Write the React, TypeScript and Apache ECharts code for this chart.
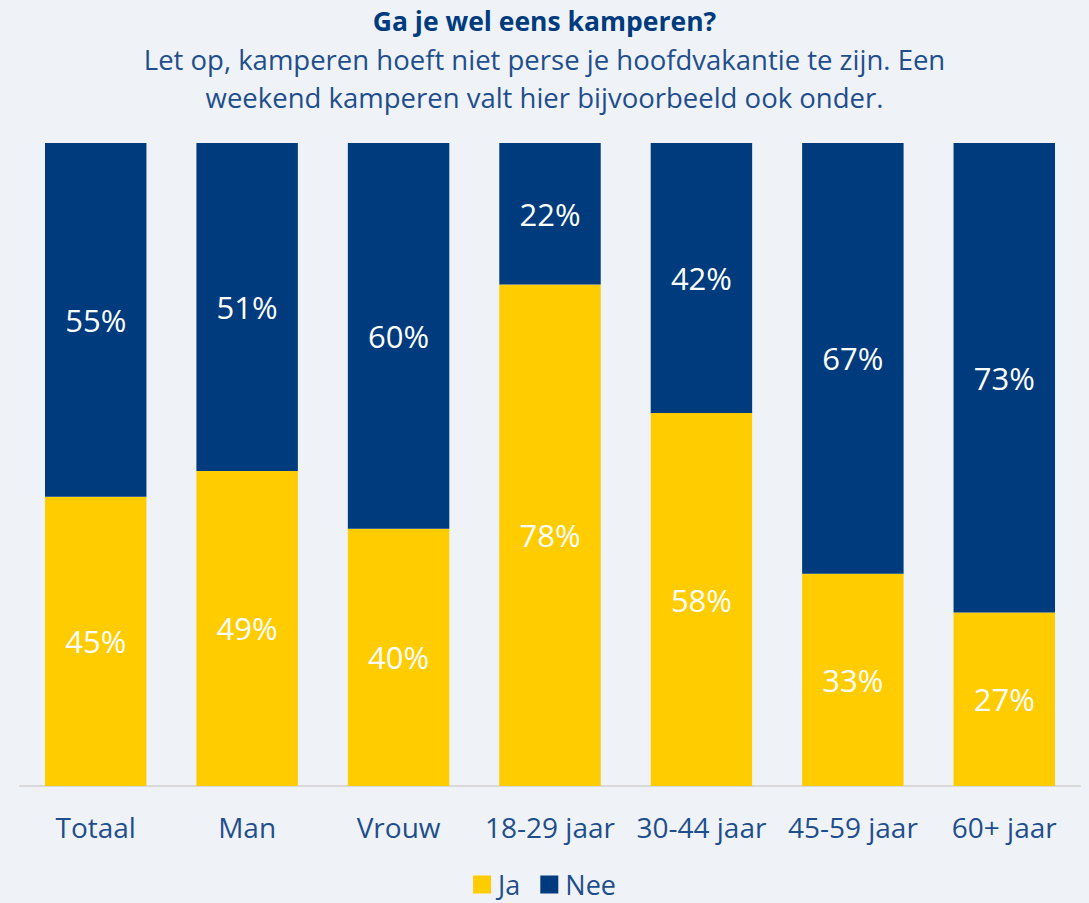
import React, { useEffect, useRef } from "react";
import * as echarts from "echarts";

const categories = ["Totaal", "Man", "Vrouw", "18-29 jaar", "30-44 jaar", "45-59 jaar", "60+ jaar"];
const jaValues = [45, 49, 40, 78, 58, 33, 27];
const neeValues = [55, 51, 60, 22, 42, 67, 73];
const titleText = "Ga je wel eens kamperen?";
const subText = "Let op, kamperen hoeft niet perse je hoofdvakantie te zijn. Een\nweekend kamperen valt hier bijvoorbeeld ook onder.";

const FONT = "'Open Sans', 'Noto Sans', sans-serif";
const BLUE = "#003B7E";
const YELLOW = "#FFCC00";
const TEXT_BLUE = "#1F4E8C";

export default function App() {
  const ref = useRef<HTMLDivElement>(null);
  useEffect(() => {
    document.body.style.margin = "0";
    const chart = echarts.init(ref.current!, null, { renderer: "svg" });
    const label = {
      show: true,
      position: "inside",
      color: "#ffffff",
      fontSize: 31,
      fontFamily: FONT,
      formatter: (p: any) => p.value + "%",
    };
    chart.setOption({
      animation: false,
      backgroundColor: "#EFF3F8",
      textStyle: { fontFamily: FONT },
      title: {
        text: titleText,
        subtext: subText,
        left: "center",
        top: 2,
        itemGap: 6,
        textStyle: { color: BLUE, fontSize: 26.5, fontWeight: "bold", fontFamily: FONT },
        subtextStyle: { color: TEXT_BLUE, fontSize: 27.5, lineHeight: 38, fontFamily: FONT },
      },
      legend: {
        data: ["Ja", "Nee"],
        bottom: 0,
        left: "center",
        itemWidth: 18,
        itemHeight: 18,
        itemGap: 20,
        icon: "rect",
        textStyle: { color: TEXT_BLUE, fontSize: 27, fontFamily: FONT, padding: [0, 0, 0, 2] },
      },
      grid: { left: 20, right: 9, top: 143, bottom: 117, containLabel: false },
      xAxis: {
        type: "category",
        data: categories,
        axisLine: { lineStyle: { color: "#D9D9D9", width: 2 } },
        axisTick: { show: false },
        axisLabel: { color: TEXT_BLUE, fontSize: 28, margin: 27, interval: 0, fontFamily: FONT },
      },
      yAxis: { type: "value", min: 0, max: 100, show: false, splitLine: { show: false } },
      series: [
        {
          name: "Ja",
          type: "bar",
          stack: "total",
          data: jaValues,
          barCategoryGap: "33%",
          itemStyle: { color: YELLOW },
          label,
        },
        {
          name: "Nee",
          type: "bar",
          stack: "total",
          data: neeValues,
          barCategoryGap: "33%",
          itemStyle: { color: BLUE },
          label,
        },
      ],
    });
    return () => chart.dispose();
  }, []);
  return <div ref={ref} style={{ position: "fixed", left: 0, top: 0, width: 1089, height: 903 }} />;
}
